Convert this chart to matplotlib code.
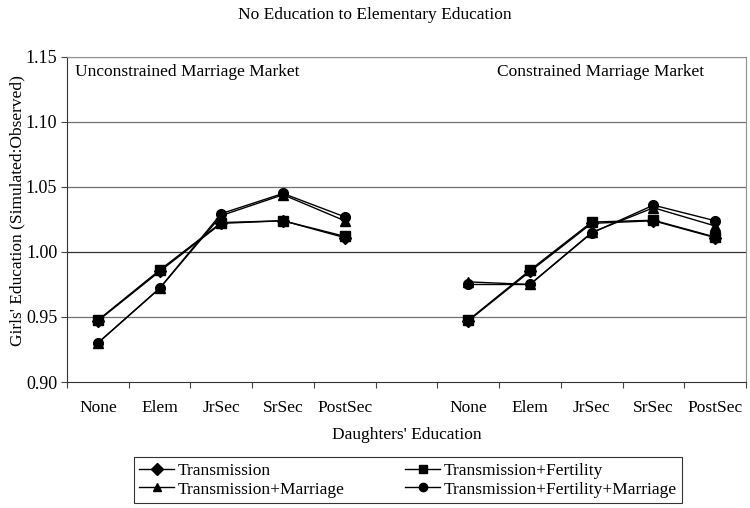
import matplotlib
matplotlib.use("Agg")
import matplotlib.pyplot as plt
import numpy as np

plt.rcParams['font.family'] = ['Liberation Serif', 'DejaVu Serif']

categories = ["None", "Elem", "JrSec", "SrSec", "PostSec", "",
              "None", "Elem", "JrSec", "SrSec", "PostSec"]

# values: unconstrained (first five), gap, constrained (last five)
transmission = [0.947, 0.985, 1.022, 1.024, 1.011, None,
                0.947, 0.985, 1.022, 1.024, 1.011]
trans_fert = [0.9475, 0.986, 1.0226, 1.024, 1.012, None,
              0.9475, 0.986, 1.023, 1.0244, 1.0115]
trans_marr = [0.930, 0.972, 1.028, 1.044, 1.024, None,
              0.977, 0.975, 1.015, 1.034, 1.020]
trans_fert_marr = [0.930, 0.972, 1.0295, 1.045, 1.027, None,
                   0.975, 0.975, 1.0146, 1.036, 1.024]

series = [
    ("Transmission", transmission, "D", 6),
    ("Transmission+Marriage", trans_marr, "^", 7),
    ("Transmission+Fertility", trans_fert, "s", 7),
    ("Transmission+Fertility+Marriage", trans_fert_marr, "o", 7),
]

fs = 12.5

fig = plt.figure(figsize=(7.5, 5.08), dpi=100)
ax = fig.add_axes([0.0893, 0.248, 0.9054, 0.640])

x = np.arange(len(categories))
handles = []
for name, vals, mk, ms in series:
    y = np.array([np.nan if v is None else v for v in vals], dtype=float)
    h, = ax.plot(x, y, color="black", lw=1.0, marker=mk, markersize=ms,
                 markerfacecolor="black", markeredgecolor="black", label=name)
    handles.append(h)

ax.set_xlim(-0.5, len(categories) - 0.5)
ax.set_ylim(0.90, 1.15)
yt = [0.90, 0.95, 1.00, 1.05, 1.10, 1.15]
ax.set_yticks(yt)
ax.set_yticklabels([f"{v:.2f}" for v in yt], fontsize=13)
for v in yt[1:]:
    ax.axhline(v, color="#707070" if v != 1.00 else "#333333", lw=0.9, zorder=0)

ax.set_xticks(np.arange(-0.5, len(categories), 1.0))
ax.set_xticklabels([])
ax.set_xticks(x, minor=True)
ax.set_xticklabels(categories, minor=True, fontsize=fs)
ax.tick_params(axis="x", which="minor", length=0, pad=13)
ax.tick_params(axis="x", which="major", length=4, direction="out", color="#444444")
ax.tick_params(axis="y", length=4, direction="out", color="#444444", pad=3)

for s in ["top", "right"]:
    ax.spines[s].set_color("#909090")
ax.spines["left"].set_color("#333333")
ax.spines["bottom"].set_color("#333333")

ax.text(0.012, 0.955, "Unconstrained Marriage Market", transform=ax.transAxes,
        fontsize=fs, va="center", ha="left")
ax.text(0.633, 0.955, "Constrained Marriage Market", transform=ax.transAxes,
        fontsize=fs, va="center", ha="left")

ax.set_ylabel("Girls' Education (Simulated:Observed)", fontsize=fs)
ax.yaxis.set_label_coords(-0.061, 0.526)
fig.text(0.543, 0.143, "Daughters' Education", fontsize=fs, ha="center", va="center")
fig.text(0.5, 0.970, "No Education to Elementary Education", fontsize=fs,
         ha="center", va="center")

leg = fig.legend(handles=handles, loc="center", bbox_to_anchor=(0.544, 0.055),
                 ncol=2, frameon=True, fancybox=False, edgecolor="black",
                 fontsize=fs, handlelength=2.0, columnspacing=3.5,
                 borderpad=0.3, labelspacing=0.15, handletextpad=0.2)
leg.get_frame().set_linewidth(0.8)
for lh in leg.legend_handles:
    lh.set_markersize(6)

fig.savefig("out.png", dpi=100)
